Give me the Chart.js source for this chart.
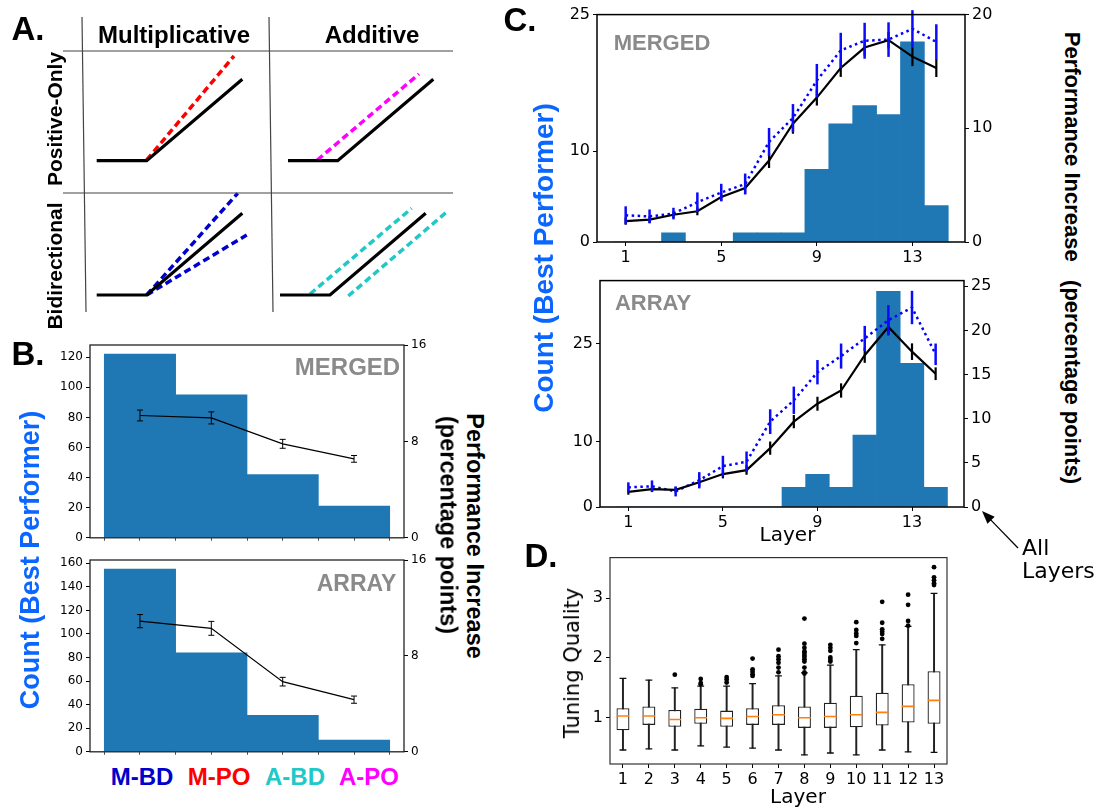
<!DOCTYPE html>
<html>
<head>
<meta charset="utf-8">
<script src="https://cdn.jsdelivr.net/npm/chart.js@4.4.1/dist/chart.umd.min.js"></script>
<style>
body { margin: 0; background: #fff; }
#fig { position: relative; width: 1098px; height: 811px; overflow: hidden; background: #fff; }
#fig canvas { position: absolute; }
.t { position: absolute; white-space: pre; line-height: 1; }
</style>
</head>
<body>
<div id="fig"></div>
<script>
// ---------- panel A: schematic response curves (schematic units, y grows downward) ----------
var A_RULES = [
    [[82, 17], [86, 312]],
    [[269, 17], [273, 312]],
    [[63, 51], [453, 51]],
    [[63, 193], [453, 193]]
];
var A_BASE = [
    [[96.7, 160.7], [146.7, 160.7], [242.3, 79.3]],
    [[288, 160.7], [337.7, 160.7], [433.3, 79.3]],
    [[96.7, 295], [146.7, 295], [242.3, 213.3]],
    [[280, 295], [330, 295], [425.7, 213.3]]
];
var A_MODULATED = [
    [[146.7, 160], [234, 56]],
    [[317.3, 160], [419, 74]],
    [[146.7, 295], [237.7, 193.3]],
    [[146.7, 295], [246.7, 235]],
    [[310, 294], [411.7, 208.3]],
    [[348.3, 296], [446.7, 212]]
];
var A_MOD_COLORS = ['#ff0000', '#ff00ff', '#0000cc', '#0000cc', '#20c8c8', '#20c8c8'];

// ---------- panel B: strategies ----------
var STRATEGIES = ['M-BD', 'M-PO', 'A-BD', 'A-PO'];
var STRAT_COLORS = ['#0000cc', '#ff0000', '#20c8c8', '#ff00ff'];
var B_POS = [1, 3, 5, 7];
var B_TICKS = [0, 1, 2, 3, 4, 5, 6, 7, 8];
var B_MERGED_COUNT = [122, 95, 42, 21];
var B_MERGED_PERF = [10.15, 9.95, 7.8, 6.55];
var B_MERGED_ERR = [0.45, 0.5, 0.37, 0.28];
var B_ARRAY_COUNT = [155, 84, 31, 10];
var B_ARRAY_PERF = [10.9, 10.3, 5.85, 4.35];
var B_ARRAY_ERR = [0.55, 0.58, 0.36, 0.3];

// ---------- panel C: layers (14 = all layers) ----------
var LAYERS = [1, 2, 3, 4, 5, 6, 7, 8, 9, 10, 11, 12, 13, 14];
var C_TICKS = [1, 5, 9, 13];
var C_MERGED_COUNT = [0, 0, 1, 0, 0, 1, 1, 1, 8, 13, 15, 14, 22, 4];
var C_MERGED_PERF = [1.84, 1.97, 2.4, 2.7, 3.95, 4.75, 7.17, 10.4, 12.7, 15.3, 17.1, 17.75, 16.3, 15.3];
var C_MERGED_PERF_ERR = [0.32, 0.3, 0.3, 0.35, 0.35, 0.5, 0.66, 0.88, 0.7, 0.78, 0.7, 0.73, 0.83, 0.79];
var C_MERGED_BEST = [2.35, 2.25, 2.5, 3.5, 4.35, 5.1, 8.8, 10.9, 14.2, 16.85, 17.7, 17.8, 18.75, 17.6];
var C_MERGED_BEST_ERR = [0.79, 0.61, 0.51, 0.86, 0.77, 0.92, 1.23, 1.23, 1.46, 1.55, 1.58, 1.52, 1.64, 1.55];
var C_ARRAY_COUNT = [0, 0, 0, 0, 0, 0, 0, 3, 5, 3, 11, 33, 22, 3];
var C_ARRAY_PERF = [1.71, 2.03, 1.95, 2.8, 3.73, 4.18, 6.67, 9.67, 11.7, 13.2, 17.2, 20.4, 17.6, 15.1];
var C_ARRAY_PERF_ERR = [0.32, 0.3, 0.3, 0.47, 0.49, 0.53, 0.75, 0.75, 0.79, 0.81, 0.87, 0.94, 0.94, 0.72];
var C_ARRAY_BEST = [2.22, 2.35, 1.77, 3.03, 4.63, 5.12, 9.67, 12.09, 15.27, 17.1, 19.1, 21.16, 22.6, 17.3];
var C_ARRAY_BEST_ERR = [0.57, 0.66, 0.57, 0.92, 1.17, 1.17, 1.4, 1.55, 1.38, 1.42, 1.42, 1.7, 1.89, 1.22];

// ---------- panel D: tuning quality boxplots ----------
var D_LAYERS = [1, 2, 3, 4, 5, 6, 7, 8, 9, 10, 11, 12, 13];
var D_LOW = [0.46, 0.48, 0.46, 0.53, 0.51, 0.49, 0.46, 0.38, 0.41, 0.38, 0.46, 0.43, 0.42];
var D_Q1 = [0.79, 0.88, 0.85, 0.90, 0.85, 0.88, 0.88, 0.83, 0.83, 0.84, 0.87, 0.92, 0.90];
var D_MED = [1.03, 1.03, 0.97, 1.00, 0.99, 1.02, 1.05, 1.00, 1.02, 1.05, 1.09, 1.19, 1.29];
var D_Q3 = [1.16, 1.19, 1.13, 1.15, 1.12, 1.16, 1.21, 1.19, 1.25, 1.37, 1.42, 1.56, 1.78];
var D_HIGH = [1.66, 1.63, 1.50, 1.53, 1.53, 1.57, 1.70, 1.75, 1.88, 2.14, 2.22, 2.53, 3.08];
var D_OUTLIERS = [
    [], [], [1.72], [1.65, 1.58, 1.56], [1.68, 1.64, 1.59],
    [1.99, 1.81, 1.77, 1.73, 1.70],
    [2.14, 2.03, 1.98, 1.92, 1.84, 1.76],
    [2.66, 2.24, 2.17, 2.11, 2.09, 2.05, 2.02, 1.98, 1.94, 1.84, 1.76, 1.74],
    [2.22, 2.17, 2.12, 2.01, 1.97, 1.94],
    [2.60, 2.47, 2.41, 2.37, 2.25],
    [2.94, 2.59, 2.48, 2.44, 2.40, 2.32],
    [3.06, 2.89, 2.62, 2.54],
    [3.52, 3.35, 3.30, 3.25, 3.22]
];

var BAR_BLUE = '#1f77b4';
var COUNT_BLUE = '#0a66ff';
var TAG_GRAY = '#8a8a8a';
var BOLD = "'Liberation Sans', Arial, sans-serif";
var PLAIN = "'DejaVu Sans', sans-serif";

Chart.defaults.font.family = PLAIN;
Chart.defaults.color = '#000';

var fig = document.getElementById('fig');

function makeCanvas(x0, y0, x1, y1, m) {
    var c = document.createElement('canvas');
    c.width = Math.round(x1 - x0 + m.l + m.r);
    c.height = Math.round(y1 - y0 + m.t + m.b);
    c.style.left = Math.round(x0 - m.l) + 'px';
    c.style.top = Math.round(y0 - m.t) + 'px';
    fig.appendChild(c);
    return c;
}

function label(text, cx, cy, font, color, rot, anchor) {
    var d = document.createElement('div');
    d.className = 't';
    d.textContent = text;
    d.style.font = font;
    d.style.color = color || '#000';
    d.style.left = cx + 'px';
    d.style.top = cy + 'px';
    var tx = anchor === 'left' ? '0' : '-50%';
    d.style.transform = 'translate(' + tx + ',-50%)' + (rot ? ' rotate(' + rot + 'deg)' : '');
    fig.appendChild(d);
}

function setTicks(vals) {
    return function(scale) { scale.ticks = vals.map(function(v) { return {value: v}; }); };
}
function fixWidth(w) { return function(scale) { scale.width = w; }; }
function fixHeight(h) { return function(scale) { scale.height = h; }; }

function axisY(pos, min, max, ticks, width, size) {
    return {
        type: 'linear', position: pos, min: min, max: max,
        afterBuildTicks: setTicks(ticks), afterFit: fixWidth(width),
        grid: {drawOnChartArea: false, drawTicks: true, tickLength: 4, color: '#000'},
        border: {display: false},
        ticks: {font: {size: size}, padding: 3, color: '#000', autoSkip: false}
    };
}
function axisX(min, max, ticks, height, size, showLabels) {
    return {
        type: 'linear', position: 'bottom', min: min, max: max, offset: false,
        afterBuildTicks: setTicks(ticks), afterFit: fixHeight(height),
        grid: {offset: false, drawOnChartArea: false, drawTicks: true, tickLength: showLabels ? 4 : 3, color: showLabels ? '#000' : '#555'},
        border: {display: false},
        ticks: {display: showLabels, font: {size: size}, padding: 2, color: '#000', autoSkip: false, maxRotation: 0}
    };
}

// box around the plotting area
var framePlugin = {
    id: 'frame',
    afterDraw: function(chart, args, o) {
        var a = chart.chartArea, ctx = chart.ctx;
        ctx.save();
        ctx.strokeStyle = o.color || '#000';
        ctx.lineWidth = o.width || 1;
        ctx.strokeRect(a.left, a.top, a.right - a.left, a.bottom - a.top);
        ctx.restore();
    }
};

// vertical error bars for datasets that carry an err array
var errPlugin = {
    id: 'errBars',
    afterDatasetsDraw: function(chart) {
        var ctx = chart.ctx;
        chart.data.datasets.forEach(function(ds, k) {
            if (!ds.err) return;
            var meta = chart.getDatasetMeta(k);
            var ys = chart.scales[meta.yAxisID];
            ctx.save();
            ctx.strokeStyle = ds.errColor;
            ctx.lineWidth = ds.errWidth;
            meta.data.forEach(function(pt, i) {
                var v = ds.data[i].y, e = ds.err[i];
                var y0 = ys.getPixelForValue(v - e), y1 = ys.getPixelForValue(v + e);
                ctx.beginPath();
                ctx.moveTo(pt.x, y0); ctx.lineTo(pt.x, y1);
                if (ds.errCap) {
                    ctx.moveTo(pt.x - ds.errCap, y0); ctx.lineTo(pt.x + ds.errCap, y0);
                    ctx.moveTo(pt.x - ds.errCap, y1); ctx.lineTo(pt.x + ds.errCap, y1);
                }
                ctx.stroke();
            });
            ctx.restore();
        });
    }
};

function pts(xs, ys) { return xs.map(function(x, i) { return {x: x, y: ys[i]}; }); }

var baseOpts = {
    responsive: false, animation: false, devicePixelRatio: 1,
    plugins: {legend: {display: false}, tooltip: {enabled: false}}
};
function opts(extra) { return Object.assign({}, baseOpts, extra); }

// ---------- panel A ----------
(function() {
    var cv = makeCanvas(0, 0, 470, 330, {l: 0, r: 0, t: 0, b: 0});
    var sets = [];
    A_RULES.forEach(function(r) {
        sets.push({data: r.map(function(p) { return {x: p[0], y: p[1]}; }), borderColor: '#444', borderWidth: 1.2});
    });
    A_BASE.forEach(function(r) {
        sets.push({data: r.map(function(p) { return {x: p[0], y: p[1]}; }), borderColor: '#000', borderWidth: 3.2});
    });
    A_MODULATED.forEach(function(r, i) {
        sets.push({data: r.map(function(p) { return {x: p[0], y: p[1]}; }), borderColor: A_MOD_COLORS[i], borderWidth: 3.5, borderDash: [7, 4]});
    });
    sets.forEach(function(s) { s.showLine = true; s.pointRadius = 0; s.clip = false; s.tension = 0; });
    new Chart(cv, {
        type: 'scatter',
        data: {datasets: sets},
        options: opts({
            layout: {padding: 0},
            scales: {
                x: {type: 'linear', min: 0, max: 470, display: false},
                y: {type: 'linear', min: 0, max: 330, reverse: true, display: false}
            }
        })
    });
})();

// ---------- panel B ----------
function panelB(x0, y0, x1, y1, counts, perf, err, countMax, countTicks) {
    var m = {l: 50, r: 40, t: 12, b: 10};
    var cv = makeCanvas(x0, y0, x1, y1, m);
    new Chart(cv, {
        type: 'bar',
        data: {datasets: [
            {type: 'line', data: pts(B_POS, perf), yAxisID: 'yR', borderColor: '#000', borderWidth: 1.2,
             pointRadius: 0, tension: 0, order: 0, err: err, errColor: '#000', errWidth: 1, errCap: 3},
            {type: 'bar', data: pts(B_POS, counts), yAxisID: 'y', backgroundColor: BAR_BLUE,
             barThickness: 'flex', barPercentage: 1, categoryPercentage: 1, order: 1}
        ]},
        options: opts({
            layout: {padding: {top: m.t, left: 0, right: 0, bottom: 0}},
            scales: {
                x: axisX(-0.4, 8.4, B_TICKS, m.b, 12, false),
                y: axisY('left', 0, countMax, countTicks, m.l, 12),
                yR: axisY('right', 0, 16, [0, 8, 16], m.r, 12)
            },
            plugins: {legend: {display: false}, tooltip: {enabled: false}, frame: {color: '#222', width: 1.3}}
        }),
        plugins: [framePlugin, errPlugin]
    });
}
panelB(90, 345, 404, 538, B_MERGED_COUNT, B_MERGED_PERF, B_MERGED_ERR, 128.1, [0, 20, 40, 60, 80, 100, 120]);
panelB(90, 560, 404, 752, B_ARRAY_COUNT, B_ARRAY_PERF, B_ARRAY_ERR, 162.75, [0, 20, 40, 60, 80, 100, 120, 140, 160]);

// ---------- panel C ----------
var arrowPlugin = {
    id: 'allArrow',
    afterDraw: function(chart) {
        var a = chart.chartArea, ctx = chart.ctx;
        var tx = a.right + 18, ty = a.bottom + 4, sx = a.right + 54, sy = a.bottom + 41;
        var ang = Math.atan2(ty - sy, tx - sx), L = 13, W = 5;
        ctx.save();
        ctx.strokeStyle = '#000'; ctx.fillStyle = '#000'; ctx.lineWidth = 1.2;
        ctx.beginPath(); ctx.moveTo(sx, sy);
        ctx.lineTo(tx - Math.cos(ang) * L * 0.8, ty - Math.sin(ang) * L * 0.8); ctx.stroke();
        ctx.beginPath(); ctx.moveTo(tx, ty);
        ctx.lineTo(tx - Math.cos(ang) * L + Math.sin(ang) * W, ty - Math.sin(ang) * L - Math.cos(ang) * W);
        ctx.lineTo(tx - Math.cos(ang) * L - Math.sin(ang) * W, ty - Math.sin(ang) * L + Math.cos(ang) * W);
        ctx.closePath(); ctx.fill();
        ctx.restore();
    }
};

function panelC(x0, y0, x1, y1, m, counts, perf, perfErr, best, bestErr, countMax, perfMax, perfTicks, extra) {
    var cv = makeCanvas(x0, y0, x1, y1, m);
    var plugins = [framePlugin, errPlugin];
    if (extra) plugins.push(extra);
    new Chart(cv, {
        type: 'bar',
        data: {datasets: [
            {type: 'line', data: pts(LAYERS, perf), yAxisID: 'yR', borderColor: '#000', borderWidth: 2.2,
             pointRadius: 0, tension: 0, order: 0, err: perfErr, errColor: '#000', errWidth: 2.2},
            {type: 'line', data: pts(LAYERS, best), yAxisID: 'yR', borderColor: '#0000ff', borderWidth: 2.5,
             borderDash: [2.5, 3.5], pointRadius: 0, tension: 0, order: 1, err: bestErr, errColor: '#0a0aff', errWidth: 2.5},
            {type: 'bar', data: pts(LAYERS, counts), yAxisID: 'y', backgroundColor: BAR_BLUE,
             barThickness: 'flex', barPercentage: 1, categoryPercentage: 1, order: 2}
        ]},
        options: opts({
            layout: {padding: {top: m.t, left: 0, right: 0, bottom: 0}},
            scales: {
                x: axisX(-0.2, 15.2, C_TICKS, m.b, 16, true),
                y: axisY('left', 0, countMax, [0, 10, 25], m.l, 16),
                yR: axisY('right', 0, perfMax, perfTicks, m.r, 16)
            },
            plugins: {legend: {display: false}, tooltip: {enabled: false}, frame: {color: '#000', width: 1.5}}
        }),
        plugins: plugins
    });
}
panelC(597, 14, 965, 242, {l: 55, r: 45, t: 12, b: 30}, C_MERGED_COUNT, C_MERGED_PERF, C_MERGED_PERF_ERR,
       C_MERGED_BEST, C_MERGED_BEST_ERR, 25, 20, [0, 10, 20]);
panelC(600, 280, 964, 507, {l: 55, r: 60, t: 12, b: 45}, C_ARRAY_COUNT, C_ARRAY_PERF, C_ARRAY_PERF_ERR,
       C_ARRAY_BEST, C_ARRAY_BEST_ERR, 34.65, 25.65, [0, 5, 10, 15, 20, 25], arrowPlugin);

// ---------- panel D ----------
(function() {
    var m = {l: 45, r: 10, t: 10, b: 28};
    var cv = makeCanvas(610, 555, 947, 764, m);
    var outliers = [], caps = [];
    D_LAYERS.forEach(function(x, i) {
        D_OUTLIERS[i].forEach(function(v) { outliers.push({x: x, y: v}); });
        caps.push({x: x, y: D_LOW[i]}, {x: x, y: D_HIGH[i]});
    });
    new Chart(cv, {
        type: 'bar',
        data: {datasets: [
            {type: 'scatter', data: outliers, pointRadius: 2.4, backgroundColor: '#000', borderWidth: 0, order: 0},
            {type: 'scatter', data: pts(D_LAYERS, D_MED), pointStyle: 'line', pointRadius: 6.3,
             borderColor: '#ff7f0e', borderWidth: 1.6, order: 1},
            {type: 'scatter', data: caps, pointStyle: 'line', pointRadius: 3.4, borderColor: '#111', borderWidth: 1.3, order: 2},
            {type: 'bar', data: D_LAYERS.map(function(x, i) { return {x: x, y: [D_Q1[i], D_Q3[i]]}; }),
             backgroundColor: '#fff', borderColor: '#222', borderWidth: 1.3, borderSkipped: false,
             barPercentage: 0.5, categoryPercentage: 1, grouped: false, order: 3},
            {type: 'bar', data: D_LAYERS.map(function(x, i) { return {x: x, y: [D_LOW[i], D_HIGH[i]]}; }),
             backgroundColor: '#222', barThickness: 1.3, grouped: false, order: 4}
        ]},
        options: opts({
            layout: {padding: {top: m.t, left: 0, right: m.r, bottom: 0}},
            scales: {
                x: axisX(0.5, 13.5, D_LAYERS, m.b, 16, true),
                y: axisY('left', 0.226, 3.68, [1, 2, 3], m.l, 16)
            },
            plugins: {legend: {display: false}, tooltip: {enabled: false}, frame: {color: '#333', width: 1.2}}
        }),
        plugins: [framePlugin]
    });
})();

// ---------- text ----------
label('A.', 28, 28.5, 'bold 33px ' + BOLD);
label('Multiplicative', 174, 35, 'bold 24px ' + BOLD);
label('Additive', 372, 35, 'bold 24px ' + BOLD);
label('Positive-Only', 55, 119, 'bold 21px ' + BOLD, '#000', -90);
label('Bidirectional', 55, 265.5, 'bold 21px ' + BOLD, '#000', -90);

label('B.', 28, 354, 'bold 33px ' + BOLD);
label('MERGED', 347.5, 367, 'bold 24px ' + BOLD, TAG_GRAY);
label('ARRAY', 356.5, 583, 'bold 23px ' + BOLD, TAG_GRAY);
label('Count (Best Performer)', 30, 560, 'bold 27px ' + BOLD, COUNT_BLUE, -90);
label('Performance Increase', 474, 536, 'bold 23.5px ' + BOLD, '#000', 90);
label('(percentage points)', 448, 525, 'bold 23.5px ' + BOLD, '#000', 90);
var STRAT_X = [142, 219, 295, 369];
STRATEGIES.forEach(function(s, i) { label(s, STRAT_X[i], 777, 'bold 24px ' + BOLD, STRAT_COLORS[i]); });

label('C.', 520, 20, 'bold 33px ' + BOLD);
label('MERGED', 662, 43, 'bold 22px ' + BOLD, TAG_GRAY);
label('ARRAY', 653, 303, 'bold 22px ' + BOLD, TAG_GRAY);
label('Count (Best Performer)', 544, 257.5, 'bold 28px ' + BOLD, COUNT_BLUE, -90);
label('Performance Increase   (percentage points)', 1072, 257.5, 'bold 22px ' + BOLD, '#000', 90);
label('Layer', 787.5, 534, '20px ' + PLAIN);
label('All', 1022, 547, '22px ' + PLAIN, '#000', 0, 'left');
label('Layers', 1022, 570, '22px ' + PLAIN, '#000', 0, 'left');

label('D.', 541, 556, 'bold 33px ' + BOLD);
label('Tuning Quality', 572, 663, '21px ' + PLAIN, '#000', -90);
label('Layer', 798, 796, '20px ' + PLAIN);
</script>
</body>
</html>
